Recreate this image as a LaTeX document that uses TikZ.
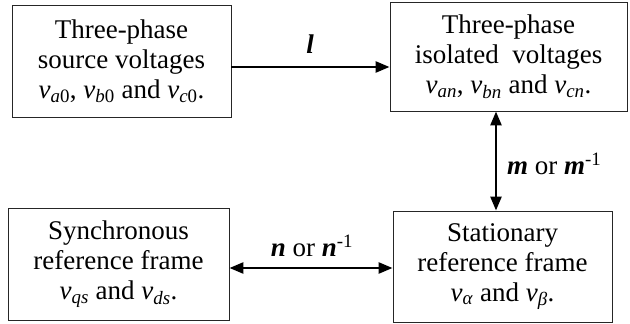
\documentclass[tikz,border=0pt]{standalone}
\usepackage{fontspec}
\setmainfont{Liberation Serif}
\usetikzlibrary{arrows.meta}
\newcommand{\vv}[1]{\textit{v}\textsubscript{#1}}
\begin{document}
\begin{tikzpicture}[x=1pt,y=-1pt,
  blockbox/.style={draw=black!85,line width=0.9pt,align=center,inner sep=0pt,
    font=\fontsize{27}{30}\selectfont},
  conn/.style={line width=2.6pt,{Triangle[length=14pt,width=11pt]}-{Triangle[length=14pt,width=11pt]}},
  connr/.style={line width=2.6pt,-{Triangle[length=14pt,width=11pt]}},
  lbl/.style={font=\fontsize{27}{30}\selectfont,inner sep=0pt}]
\useasboundingbox (0,0) rectangle (630,324);
\node[blockbox,minimum width=219pt,minimum height=112pt] (src) at (121.5,61)
  {Three-phase\\source voltages\\\vv{\textit{a}0}, \vv{\textit{b}0} and \vv{\textit{c}0}.};
\node[blockbox,minimum width=237pt,minimum height=109pt] (iso) at (508.5,56.5)
  {Three-phase\\isolated\ \ voltages\\\vv{\textit{an}}, \vv{\textit{bn}} and \vv{\textit{cn}}.};
\node[blockbox,minimum width=221pt,minimum height=112pt] (syn) at (118.5,264)
  {Synchronous\\reference frame\\\vv{\textit{qs}} and \vv{\textit{ds}}.};
\node[blockbox,minimum width=219pt,minimum height=111pt] (sta) at (502.5,266.5)
  {Stationary\\reference frame\\\vv{\textit{α}} and \vv{\textit{β}}.};
\draw[connr] (src.east |- 0,67) -- (iso.west |- 0,67);
\draw[conn] (iso.south -| 496,0) -- (sta.north -| 496,0);
\draw[conn] (syn.east |- 0,268) -- (sta.west |- 0,268);
\node[lbl] (l) at (310,44) {\textbf{\textit{l}}};
\node[lbl,anchor=west] (m) at (507,164) {\textbf{\textit{m}} or \textbf{\textit{m}}\textsuperscript{-1}};
\node[lbl] (n) at (312,246) {\textbf{\textit{n}} or \textbf{\textit{n}}\textsuperscript{-1}};
\end{tikzpicture}
\end{document}
